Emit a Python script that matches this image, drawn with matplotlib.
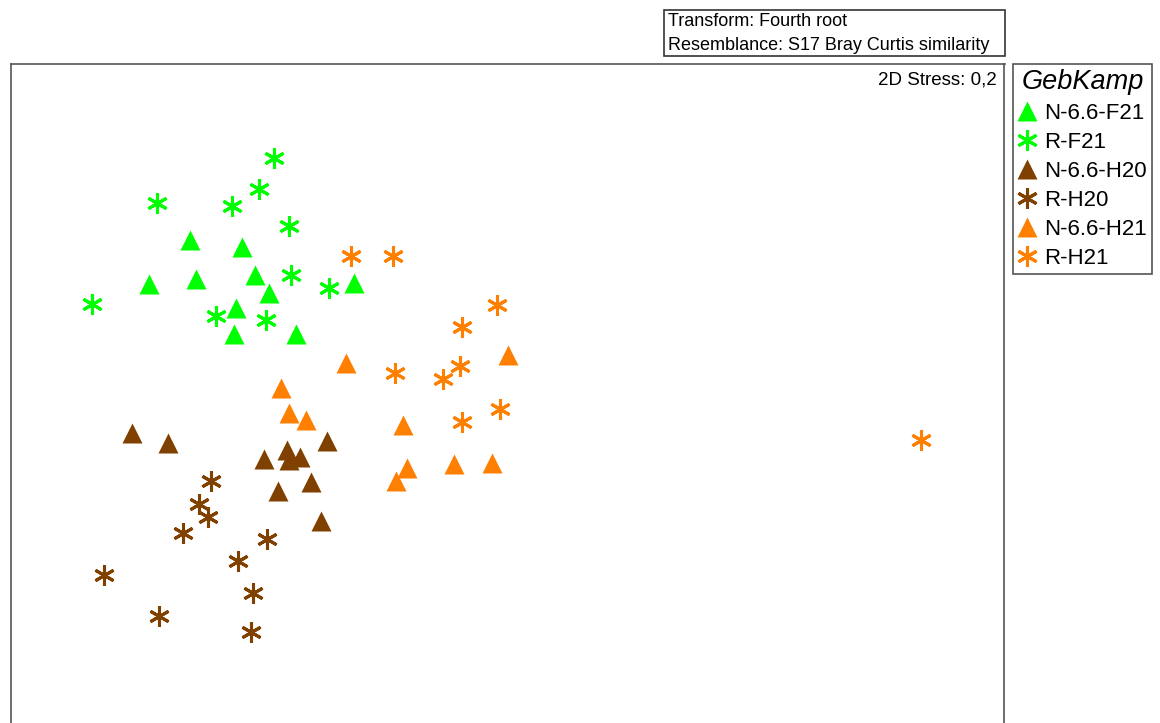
import matplotlib
matplotlib.use('Agg')
import matplotlib.pyplot as plt
from matplotlib.patches import Rectangle
from matplotlib.lines import Line2D

plt.rcParams['font.family'] = ['Liberation Sans', 'DejaVu Sans']

# NMDS ordination positions (plot units, y grows downward)
f21_n_x = [190, 242, 149, 196, 255, 269, 236, 234, 296, 354]
f21_n_y = [240, 247, 284, 279, 275, 293, 308, 334, 334, 283]
f21_r_x = [274, 259, 232, 157, 289, 291, 329, 92, 216, 266]
f21_r_y = [158, 189, 206, 203, 226, 275, 288, 304, 316, 320]
h20_n_x = [132, 168, 264, 287, 289, 300, 327, 311, 278, 321]
h20_n_y = [433, 443, 459, 450, 460, 457, 441, 482, 491, 521]
h20_r_x = [211, 199, 208, 183, 267, 238, 104, 253, 159, 251]
h20_r_y = [481, 504, 517, 533, 539, 561, 575, 593, 616, 632]
h21_n_x = [346, 508, 281, 289, 306, 403, 407, 396, 454, 492]
h21_n_y = [363, 355, 388, 413, 420, 425, 468, 481, 464, 463]
h21_r_x = [351, 393, 497, 462, 395, 460, 443, 500, 462, 921]
h21_r_y = [256, 256, 305, 327, 373, 366, 379, 409, 422, 440]

groups = ['N-6.6-F21', 'R-F21', 'N-6.6-H20', 'R-H20', 'N-6.6-H21', 'R-H21']
colors = ['#00ff00', '#00ff00', '#804000', '#804000', '#ff8000', '#ff8000']
kinds = ['tri', 'star', 'tri', 'star', 'tri', 'star']
xs = [f21_n_x, f21_r_x, h20_n_x, h20_r_x, h21_n_x, h21_r_x]
ys = [f21_n_y, f21_r_y, h20_n_y, h20_r_y, h21_n_y, h21_r_y]

W, H = 1160, 723
fig = plt.figure(figsize=(W / 100, H / 100), dpi=100)
ax = fig.add_axes([10.5 / W, 0, 994 / W, (H - 64) / H])
ax.set_xlim(10.5, 1004.5)
ax.set_ylim(723, 64)
ax.set_xticks([])
ax.set_yticks([])
frame_col = '#555555'
for side in ['left', 'right', 'top']:
    ax.spines[side].set_color(frame_col)
    ax.spines[side].set_linewidth(1.2)
ax.spines['bottom'].set_visible(False)

star = (6, 2, 0)  # six-armed asterisk, one arm vertical
handles = []
for g, c, k, x, y in zip(groups, colors, kinds, xs, ys):
    if k == 'tri':
        style = dict(linestyle='none', marker='^', ms=14, color=c, mec='none')
    else:
        style = dict(linestyle='none', marker=star, ms=15, mew=2.2, color=c, mec=c)
    ax.plot(x, y, **style)
    handles.append(Line2D([], [], **style))

ax.text(997, 80, '2D Stress: 0,2', ha='right', va='center', fontsize=13.5)

# transform / resemblance box above the plot
fig.patches.append(Rectangle((664 / W, 1 - 56 / H), 341 / W, 46 / H, transform=fig.transFigure,
                             fill=False, edgecolor='#333333', linewidth=1.2))
fig.text(668 / W, 1 - 21 / H, 'Transform: Fourth root', ha='left', va='center', fontsize=13)
fig.text(668 / W, 1 - 45 / H, 'Resemblance: S17 Bray Curtis similarity', ha='left', va='center', fontsize=13)

leg = fig.legend(handles, groups, loc='upper left', bbox_to_anchor=(1013 / W, 1 - 64 / H),
                 borderaxespad=0, fancybox=False, framealpha=1, edgecolor=frame_col,
                 fontsize=16, title='GebKamp',
                 title_fontproperties={'style': 'italic', 'size': 19.5},
                 handlelength=0.8, handletextpad=0.4, labelspacing=0.36,
                 borderpad=0.22, alignment='center')
leg.get_frame().set_linewidth(1.2)

fig.savefig('out.png', dpi=100)
